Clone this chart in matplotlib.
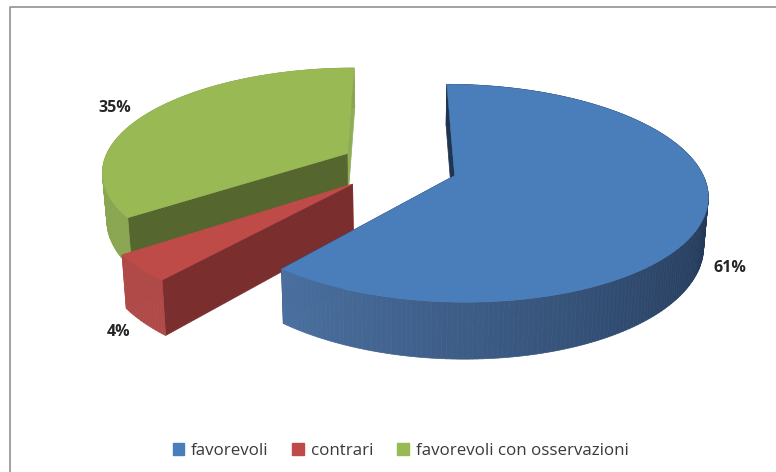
import numpy as np
import matplotlib
matplotlib.use('Agg')
import matplotlib.pyplot as plt
from matplotlib.patches import Patch
from matplotlib.colors import to_rgb

plt.rcParams['font.family'] = ['Open Sans', 'DejaVu Sans']

labels = ['favorevoli', 'contrari', 'favorevoli con osservazioni']
shares = [61, 4, 35]

top_colors = ['#4a7ebb', '#be4b48', '#98b954']
front_colors = ['#1f3552', '#7b2e2e', '#55662f']
back_colors = ['#1f3552', '#b04a48', '#8dae55']
rim_colors = [('#4b70a0', '#1f3350'), ('#b04a48', '#a84543'), ('#8aa650', '#8aa650')]

# projection of the tilted pie onto the page
center_x, center_y = 398.5, 166.0
scale_x, scale_y = 245.0, 103.0
persp = 0.16
explode_x = [0.24, 0.25, 0.24]
explode_y = [0.27, 0.25, 0.27]
depth = 47.0
floor_shrink = 0.985


def project(x, y, lower=False):
    w = 1 - persp * y
    px = center_x + scale_x * x / w
    py = center_y + scale_y * y / w
    if lower:
        px = center_x + (px - center_x) * floor_shrink
        py = py + depth / w
    return np.column_stack([px, py])


def rim(deg, ox, oy, lower=False):
    rad = np.radians(deg)
    return project(ox + np.sin(rad), oy - np.cos(rad), lower)


def radial_wall(deg, ox, oy):
    apex_t = project(np.array([ox]), np.array([oy]))
    apex_b = project(np.array([ox]), np.array([oy]), True)
    edge_t = rim(np.array([deg]), ox, oy)
    edge_b = rim(np.array([deg]), ox, oy, True)
    return np.vstack([apex_t, edge_t, edge_b, apex_b])


fig = plt.figure(figsize=(7.76, 4.72), dpi=100)
ax = fig.add_axes([0, 0, 1, 1])
ax.set_xlim(0, 776)
ax.set_ylim(472, 0)
ax.axis('off')

# outer chart frame, only left and top edges show
ax.plot([9.5, 9.5, 776], [472, 6.5, 6.5], color='#9a9a9a', lw=1.3)

ends = np.cumsum(shares) * 3.6
starts = ends - np.array(shares) * 3.6

# back slices first so that the nearer ones cover them
for rank, i in enumerate([2, 1, 0]):
    z = 2 + rank
    mid = np.radians((starts[i] + ends[i]) / 2)
    ox = explode_x[i] * np.sin(mid)
    oy = -explode_y[i] * np.cos(mid)
    angles = np.linspace(starts[i], ends[i], max(int(ends[i] - starts[i]), 2) + 1)

    # radial side walls, the one turned away goes down first
    wall = radial_wall(starts[i] if i == 0 else ends[i], ox, oy)
    ax.fill(wall[:, 0], wall[:, 1], color=back_colors[i], lw=0.5, zorder=z)
    wall = radial_wall(ends[i] if i == 0 else starts[i], ox, oy)
    ax.fill(wall[:, 0], wall[:, 1], color=front_colors[i], lw=0.5, zorder=z + 0.1)

    # curved outer wall as short shaded strips
    c0, c1 = to_rgb(rim_colors[i][0]), to_rgb(rim_colors[i][1])
    for a0, a1 in zip(angles[:-1], angles[1:]):
        seg = np.array([a0, a1])
        up = rim(seg, ox, oy)
        dn = rim(seg, ox, oy, True)
        f = np.clip((ends[i] - a0) / max(ends[i] - starts[i], 1) * 1.75, 0, 1)
        if i == 0:
            col = tuple(c0[k] + (c1[k] - c0[k]) * f for k in range(3))
        else:
            col = c0
        poly = np.vstack([up, dn[::-1]])
        ax.fill(poly[:, 0], poly[:, 1], color=col, lw=0.5, zorder=z + 0.2)

    # top face
    apex = project(np.array([ox]), np.array([oy]))
    face = np.vstack([apex, rim(angles, ox, oy)])
    ax.fill(face[:, 0], face[:, 1], color=top_colors[i], lw=0.3, zorder=z + 0.5)

ax.text(730, 268, '%d%%' % shares[0], fontsize=11.5, fontweight='bold',
        color='#262626', ha='center', va='center')
ax.text(119, 332, '%d%%' % shares[1], fontsize=11.5, fontweight='bold',
        color='#262626', ha='center', va='center')
ax.text(115, 108, '%d%%' % shares[2], fontsize=11.5, fontweight='bold',
        color='#262626', ha='center', va='center')

handles = [Patch(color=c) for c in top_colors]
ax.legend(handles, labels, loc='center', bbox_to_anchor=(400.5 / 776, 1 - 451 / 472),
          ncol=3, frameon=False, fontsize=12.2, labelcolor='#3a3a3a',
          handlelength=0.7, handleheight=0.7, handletextpad=0.4,
          columnspacing=1.4, borderpad=0)

plt.savefig('out.png', dpi=100)
